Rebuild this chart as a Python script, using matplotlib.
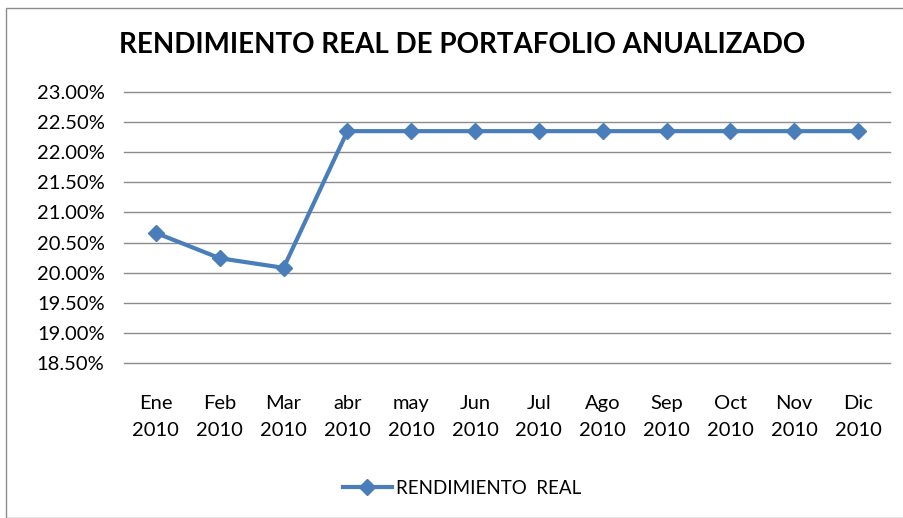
import matplotlib.pyplot as plt
from matplotlib.patches import Rectangle
from matplotlib.ticker import FuncFormatter

meses = ['Ene', 'Feb', 'Mar', 'abr', 'may', 'Jun', 'Jul', 'Ago', 'Sep', 'Oct', 'Nov', 'Dic']
anio = '2010'
rendimiento = [20.66, 20.24, 20.08, 22.35, 22.35, 22.35, 22.35, 22.35, 22.35, 22.35, 22.35, 22.35]
yticks = [18.5, 19.0, 19.5, 20.0, 20.5, 21.0, 21.5, 22.0, 22.5, 23.0]

azul = '#4a7ebb'

plt.rcParams['font.family'] = ['Lato', 'DejaVu Sans']

fig = plt.figure(figsize=(9.04, 5.18), dpi=100)
# marco del grafico
fig.patches.append(Rectangle((6 / 904, 0), 1, 1 - 8 / 518, transform=fig.transFigure,
                             fill=False, edgecolor='#8c8c8c', linewidth=1))

ax = fig.add_axes([124 / 904, (518 - 363) / 518, (890 - 124) / 904, (363 - 92) / 518])
x = list(range(len(meses)))
ax.plot(x, rendimiento, color=azul, linewidth=3, marker='D', markersize=8,
        markeredgecolor=azul, label='RENDIMIENTO  REAL')

ax.set_xlim(-0.5, len(meses) - 0.5)
ax.set_ylim(18.5, 23.0)
ax.set_yticks(yticks)
ax.yaxis.set_major_formatter(FuncFormatter(lambda v, p: f'{v:.2f}%'))
ax.set_xticks(x)
ax.set_xticklabels([m + '\n' + anio for m in meses], linespacing=1.75)
ax.grid(axis='y', color='#8c8c8c', linewidth=1)
for g in ax.get_ygridlines():
    g.set_clip_on(False)
ax.set_axisbelow(True)
for s in ax.spines.values():
    s.set_visible(False)
ax.tick_params(axis='both', length=0, labelsize=14.5, colors='black')
ax.tick_params(axis='x', pad=23)
ax.tick_params(axis='y', pad=14)

fig.text(462 / 904, 1 - 45 / 518, 'RENDIMIENTO REAL DE PORTAFOLIO ANUALIZADO', ha='center', va='center',
         fontsize=20, fontweight='bold')

fig.legend(loc='center', bbox_to_anchor=(462 / 904, 1 - 488 / 518), frameon=False,
           fontsize=13.5, handlelength=2.6, handletextpad=0.2)

fig.savefig('out.png', dpi=100)
